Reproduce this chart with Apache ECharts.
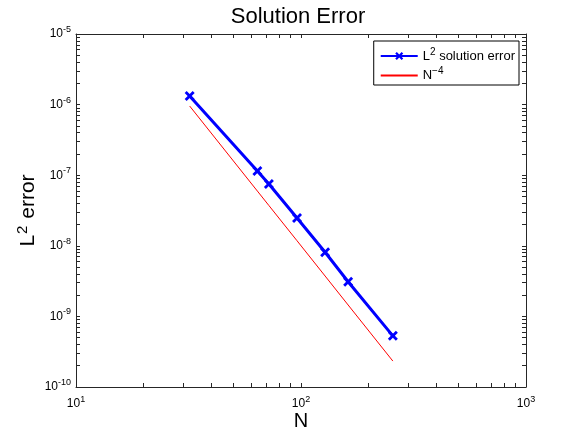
<!DOCTYPE html>
<html>
<head>
<meta charset="utf-8">
<script src="https://cdn.jsdelivr.net/npm/echarts@6/dist/echarts.min.js"></script>
<style>
  html, body { margin: 0; padding: 0; background: #fff; }
  #chart { width: 581px; height: 437px; }
</style>
</head>
<body>
<div id="chart"></div>
<script>
const nValues = [32, 64, 72, 96, 128, 162, 256]
const solutionError = [1.32e-6, 1.15e-7, 7.5e-8, 2.47e-8, 8.1e-9, 3.1e-9, 5.3e-10]
const referenceRate = [9.54e-7, 5.96e-8, 3.72e-8, 1.18e-8, 3.73e-9, 1.45e-9, 2.33e-10]
const xTicks = [10, 20, 30, 40, 50, 60, 70, 80, 90, 100, 200, 300, 400, 500, 600, 700, 800, 900, 1000]
const xLabels = [10, 100, 1000]
const yTicks = []
const yLabels = [1e-10, 1e-9, 1e-8, 1e-7, 1e-6, 1e-5]
yLabels.forEach((d, i) => {
  yTicks.push(d)
  if (i < yLabels.length - 1) for (let m = 2; m <= 9; m++) yTicks.push(+(d * m).toPrecision(3))
})

const font = 'Liberation Sans, Arial, sans-serif'
const axisColor = '#262626'
const crossMark = 'path://M0,2L2,0L5,3L8,0L10,2L7,5L10,8L8,10L5,7L2,10L0,8L3,5Z'
const richPow = {
  b: { fontSize: 12, color: '#000', fontFamily: font },
  e: { fontSize: 9, color: '#000', fontFamily: font, verticalAlign: 'bottom', padding: [0, 0, 9, 0] }
}
const powLabel = v => '{b|10}{e|' + Math.round(Math.log10(v)) + '}'

function makeAxis(opts) {
  return Object.assign({
    type: 'log',
    logBase: 10,
    nameMoveOverlap: false,
    axisLine: { show: true, onZero: false, lineStyle: { color: axisColor, width: 1 } },
    splitLine: { show: false },
    minorTick: { show: false }
  }, opts)
}

const chart = echarts.init(document.getElementById('chart'), null, { renderer: 'canvas' })
chart.setOption({
  animation: false,
  backgroundColor: '#fff',
  title: {
    text: 'Solution Error',
    left: 293,
    textAlign: 'center',
    top: 1,
    textStyle: { fontSize: 22, fontWeight: 'normal', color: '#000', fontFamily: font }
  },
  legend: {
    right: 62,
    top: 41,
    orient: 'vertical',
    backgroundColor: '#fff',
    borderColor: '#000',
    borderWidth: 1,
    borderRadius: 0,
    padding: [6, 4, 3, 6],
    itemGap: 4,
    itemWidth: 37,
    itemHeight: 10,
    textStyle: {
      color: '#000', fontSize: 13, fontFamily: font,
      rich: {
        t: { fontSize: 13, color: '#000', fontFamily: font },
        s: { fontSize: 10, color: '#000', fontFamily: font, verticalAlign: 'bottom', padding: [0, 0, 8, 0] }
      }
    },
    formatter: name => name === 'err' ? '{t|L}{s|2}{t| solution error}' : '{t|N}{s|−4}',
    data: [
      { name: 'err' },
      { name: 'ref', itemStyle: { opacity: 0 } }
    ]
  },
  grid: { left: 76, right: 55, top: 34, bottom: 50, outerBoundsMode: 'none', containLabel: false },
  xAxis: [
    makeAxis({
      position: 'bottom', min: 10, max: 1000,
      name: 'N', nameLocation: 'middle', nameGap: 24,
      nameTextStyle: { fontSize: 20, color: '#000', fontFamily: font },
      axisTick: { show: true, inside: true, length: 4, customValues: xTicks, lineStyle: { color: axisColor } },
      axisLabel: { show: true, margin: 8, customValues: xLabels, formatter: powLabel, rich: richPow }
    }),
    makeAxis({
      position: 'top', min: 10, max: 1000,
      axisTick: { show: true, inside: true, length: 4, customValues: xTicks, lineStyle: { color: axisColor } },
      axisLabel: { show: false }
    })
  ],
  yAxis: [
    makeAxis({
      position: 'left', min: 1e-10, max: 1e-5,
      name: '{b|L}{s|2}{b| error}', nameLocation: 'middle', nameGap: 34, nameRotate: 90,
      nameTextStyle: {
        rich: {
          b: { fontSize: 21, color: '#000', fontFamily: font },
          s: { fontSize: 15, color: '#000', fontFamily: font, verticalAlign: 'bottom', padding: [0, 1, 12, 1] }
        }
      },
      axisTick: { show: true, inside: true, length: 4, customValues: yTicks, lineStyle: { color: axisColor } },
      axisLabel: { show: true, margin: 5, customValues: yLabels, formatter: powLabel, rich: richPow }
    }),
    makeAxis({
      position: 'right', min: 1e-10, max: 1e-5,
      axisTick: { show: true, inside: true, length: 4, customValues: yTicks, lineStyle: { color: axisColor } },
      axisLabel: { show: false }
    })
  ],
  series: [
    {
      name: 'err',
      type: 'line',
      data: nValues.map((n, i) => [n, solutionError[i]]),
      symbol: crossMark,
      symbolSize: 10,
      showAllSymbol: true,
      lineStyle: { color: '#0000ff', width: 3 },
      itemStyle: { color: '#0000ff' }
    },
    {
      name: 'ref',
      type: 'line',
      data: nValues.map((n, i) => [n, referenceRate[i]]),
      showSymbol: false,
      symbol: 'none',
      lineStyle: { color: '#ff0000', width: 1 },
      itemStyle: { color: '#ff0000' }
    }
  ]
})
</script>
</body>
</html>
